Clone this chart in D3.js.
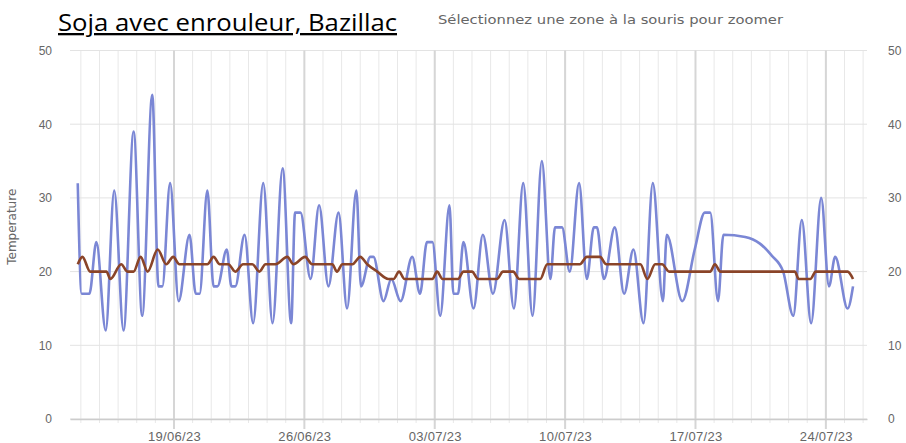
<!DOCTYPE html>
<html>
<head>
<meta charset="utf-8">
<script src="https://cdnjs.cloudflare.com/ajax/libs/d3/7.8.5/d3.min.js"></script>
<style>
  body { margin: 0; background: #fff; }
</style>
</head>
<body>
<div id="chart"></div>
<script>
// hours counted from 13/06/2023 00:00
const startDate = new Date(2023, 5, 13);

const blueHours = [20, 25, 35, 44, 56, 67, 79, 92, 103, 116, 124, 129, 139, 150, 164, 172, 177, 187, 195, 200,
    212, 218, 223, 235, 246, 259, 271, 284, 295, 300, 307, 320, 331, 343, 356, 367, 379, 385, 397, 401,
    414, 424, 436, 451, 461, 470, 477, 487, 499, 504, 510, 517, 530, 542, 555, 570, 582, 594, 606, 618,
    629, 635, 644, 654, 666, 676, 685, 689, 698, 712, 724, 736, 749, 761, 774, 779, 799, 815, 828, 835,
    845, 852, 880, 899, 914, 929, 942, 953, 965, 978, 988, 996, 1012, 1019];
const blueValues = [32, 17, 17, 24, 12, 31, 12, 39, 14, 44, 18, 18, 32, 16, 25, 17, 17, 31, 18, 18,
    23, 18, 18, 25, 13, 32, 13, 34, 13, 28, 28, 19, 29, 18, 28, 15, 31, 18, 22, 22,
    16, 19, 16, 22, 17, 24, 24, 14, 29, 17, 17, 24, 15, 25, 17, 27, 15, 32, 14, 35,
    19, 26, 26, 20, 32, 19, 26, 26, 19, 26, 17, 23, 13, 32, 16, 25, 16, 23, 28, 28,
    16, 25, 24.7, 23.8, 22.2, 20, 14, 27, 13, 30, 18, 22, 15, 18];

const brownHours = [20, 26, 36, 57, 62, 76, 84, 92, 101, 110, 123, 134, 143, 151, 187, 195, 203, 214, 223, 233,
    245, 254, 262, 275, 290, 298, 313, 322, 348, 354, 361, 374, 384, 393, 406, 420, 427, 434, 441, 477,
    483, 490, 510, 517, 528, 536, 560, 568, 581, 589, 616, 625, 667, 676, 693, 701, 745, 754, 764, 773,
    782, 835, 841, 848, 944, 949, 964, 971, 1012, 1019];
const brownValues = [21, 22, 20, 20, 19, 21, 20, 20, 22, 20, 23, 21, 22, 21, 21, 22, 21, 21, 20, 21,
    21, 20, 21, 21, 22, 21, 22, 21, 21, 20, 21, 21, 22, 21, 20, 19, 19, 20, 19, 19,
    20, 19, 19, 20, 20, 19, 19, 20, 20, 19, 19, 21, 21, 22, 22, 21, 21, 19, 21, 21,
    20, 20, 21, 20, 20, 19, 19, 20, 20, 19];

const tickLabels = ["19/06/23", "26/06/23", "03/07/23", "10/07/23", "17/07/23", "24/07/23"];
const yTicks = [0, 10, 20, 30, 40, 50];

const titleText = "Soja avec enrouleur, Bazillac";
const subtitleText = "Sélectionnez une zone à la souris pour zoomer";
const yTitle = "Temperature";

const w = 906;
const h = 443;
const margin = { top: 50.5, right: 39, bottom: 24, left: 70 };

const parseTick = d3.timeParse("%d/%m/%y");
const tickDates = tickLabels.map(parseTick);
const toDate = hr => d3.timeHour.offset(startDate, hr);

const x = d3.scaleTime()
    .domain([toDate(10.7), toDate(1037)])
    .range([margin.left, w - margin.right]);

const y = d3.scaleLinear()
    .domain([0, 50])
    .range([h - margin.bottom, margin.top]);

const svg = d3.select("#chart")
    .append("svg")
    .attr("width", w)
    .attr("height", h)
    .style("font-family", "DejaVu Sans, sans-serif");

// daily minor grid
svg.append("g")
    .selectAll("line")
    .data(d3.timeDay.range(x.domain()[0], x.domain()[1]))
    .enter()
    .append("line")
    .attr("x1", d => x(d)).attr("x2", d => x(d))
    .attr("y1", y(50)).attr("y2", y(0) + 4)
    .attr("stroke", "#e8e8e8")
    .attr("stroke-width", 1);

// horizontal grid
svg.append("g")
    .selectAll("line")
    .data(yTicks)
    .enter()
    .append("line")
    .attr("x1", margin.left).attr("x2", w - margin.right)
    .attr("y1", d => y(d)).attr("y2", d => y(d))
    .attr("stroke", "#e3e3e3")
    .attr("stroke-width", 1);

// weekly major grid
svg.append("g")
    .selectAll("line")
    .data(tickDates)
    .enter()
    .append("line")
    .attr("x1", d => x(d)).attr("x2", d => x(d))
    .attr("y1", y(50)).attr("y2", y(0) + 10)
    .attr("stroke", "#d6d6d6")
    .attr("stroke-width", 2);

// x axis
const xAxis = d3.axisBottom(x)
    .tickValues(tickDates)
    .tickFormat(d3.timeFormat("%d/%m/%y"))
    .tickSize(0)
    .tickPadding(13);

const gx = svg.append("g")
    .attr("transform", `translate(0, ${y(0)})`)
    .call(xAxis);
gx.select(".domain").attr("stroke", "#cccccc").attr("stroke-width", 1.5);
gx.selectAll("text")
    .style("font-size", "13px")
    .style("letter-spacing", "0.3px")
    .attr("fill", "#666");

// left and right y axes
const yLeft = d3.axisLeft(y).tickValues(yTicks).tickSize(0).tickPadding(18);
const gl = svg.append("g")
    .attr("transform", `translate(${margin.left}, 0)`)
    .call(yLeft);
gl.select(".domain").remove();
gl.selectAll("text").style("font-size", "12px").attr("fill", "#666");

const yRight = d3.axisRight(y).tickValues(yTicks).tickSize(0).tickPadding(21);
const gr = svg.append("g")
    .attr("transform", `translate(${w - margin.right}, 0)`)
    .call(yRight);
gr.select(".domain").remove();
gr.selectAll("text").style("font-size", "12px").attr("fill", "#666");

svg.append("text")
    .attr("transform", `translate(16, ${y(25) - 8}) rotate(-90)`)
    .attr("text-anchor", "middle")
    .style("font-size", "12px")
    .attr("fill", "#666")
    .text(yTitle);

// series
const line = d3.line()
    .x(d => x(toDate(d[0])))
    .y(d => y(d[1]))
    .curve(d3.curveMonotoneX);

const blueData = blueHours.map((hr, i) => [hr, blueValues[i]]);
const brownData = brownHours.map((hr, i) => [hr, brownValues[i]]);

svg.append("path")
    .datum(blueData)
    .attr("d", line)
    .attr("fill", "none")
    .attr("stroke", "#7b87d5")
    .attr("stroke-width", 2.6)
    .attr("stroke-linejoin", "round");

svg.append("path")
    .datum(brownData)
    .attr("d", line)
    .attr("fill", "none")
    .attr("stroke", "#8a4428")
    .attr("stroke-width", 2.6)
    .attr("stroke-linejoin", "round");

// titles
svg.append("text")
    .attr("x", 58)
    .attr("y", 31)
    .attr("textLength", 339)
    .attr("lengthAdjust", "spacingAndGlyphs")
    .style("font-family", "Open Sans, sans-serif")
    .style("font-size", "23px")
    .style("text-decoration", "underline")
    .attr("fill", "#000")
    .text(titleText);

svg.append("text")
    .attr("x", 438)
    .attr("y", 24)
    .attr("textLength", 345)
    .attr("lengthAdjust", "spacingAndGlyphs")
    .style("font-size", "12.5px")
    .attr("fill", "#666")
    .text(subtitleText);
</script>
</body>
</html>
